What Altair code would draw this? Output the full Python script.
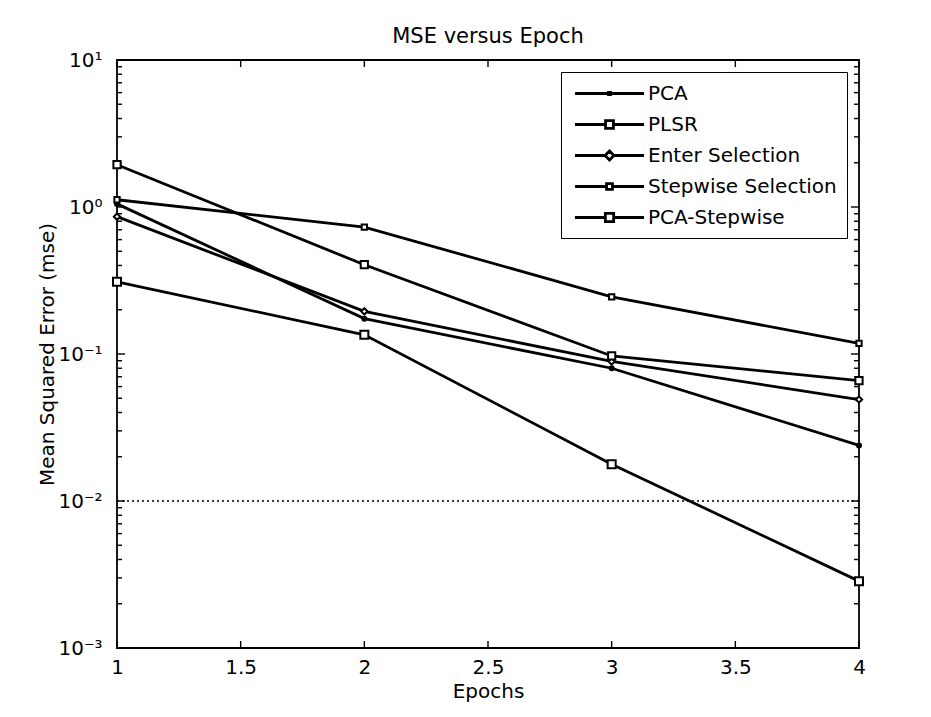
import altair as alt
import pandas as pd

# ---- data ----
epochs = [1, 2, 3, 4]
series_names = ["PCA", "PLSR", "Enter Selection", "Stepwise Selection", "PCA-Stepwise"]
pca = [1.05, 0.174, 0.080, 0.0239]
plsr = [1.12, 0.73, 0.245, 0.118]
enter_sel = [0.86, 0.195, 0.089, 0.049]
stepwise_sel = [1.94, 0.405, 0.097, 0.066]
pca_stepwise = [0.31, 0.135, 0.0178, 0.00285]
goal = [0.01]

x_ticks = [1, 1.5, 2, 2.5, 3, 3.5, 4]
y_major = [0.001, 0.01, 0.1, 1, 10]
y_major_labels = ["10⁻³", "10⁻²", "10⁻¹", "10⁰", "10¹"]
y_minor = [m * d for d in [0.001, 0.01, 0.1, 1] for m in [2, 3, 4, 5, 6, 7, 8, 9]]

W, H = 742, 588
FONT = "DejaVu Sans"

values = [pca, plsr, enter_sel, stepwise_sel, pca_stepwise]
rows = []
for name, vals in zip(series_names, values):
    for e, v in zip(epochs, vals):
        rows.append({"series": name, "epoch": e, "mse": v})
df = pd.DataFrame(rows)

xs = alt.Scale(domain=[1, 4], nice=False, zero=False)
ys = alt.Scale(type="log", domain=[0.001, 10], nice=False)

label_expr = " : ".join(
    f"abs(log(datum.value)/LN10 - ({i})) < 0.01 ? '{lab}'"
    for i, lab in zip([-3, -2, -1, 0, 1], y_major_labels)
) + " : ''"

x_axis = alt.Axis(values=x_ticks, format="~g", ticks=False, domain=False, grid=False,
                  labelFlush=False, labelOverlap=False,
                  labelFontSize=20, labelPadding=9, labelColor="black", labelFont=FONT,
                  title="Epochs", titleFontSize=20, titleFontWeight="normal", titleFont=FONT,
                  titlePadding=4, titleColor="black")
y_axis = alt.Axis(values=y_major, labelExpr=label_expr, ticks=False, domain=False, grid=False,
                  labelFlush=False, labelOverlap=False,
                  labelFontSize=20, labelPadding=15, labelColor="black", labelFont=FONT,
                  title="Mean Squared Error (mse)", titleFontSize=20, titleFontWeight="normal",
                  titleFont=FONT, titlePadding=0, titleColor="black")


def X(field):
    return alt.X(field, type="quantitative", scale=xs, axis=x_axis)


def Y(field):
    return alt.Y(field, type="quantitative", scale=ys, axis=y_axis)


base = alt.Chart(df)

lines = base.mark_line(color="black", strokeWidth=2.8).encode(
    x=X("epoch"),
    y=Y("mse"),
    detail="series:N",
)

points = base.mark_point(filled=True, stroke="black", strokeWidth=2, opacity=1).encode(
    x=X("epoch"),
    y=Y("mse"),
    shape=alt.Shape("series:N", scale=alt.Scale(domain=series_names,
                    range=["circle", "square", "diamond", "square", "square"]), legend=None),
    fill=alt.Fill("series:N", scale=alt.Scale(domain=series_names,
                  range=["black", "white", "white", "white", "white"]), legend=None),
    size=alt.Size("series:N", scale=alt.Scale(domain=series_names,
                  range=[16, 64, 60, 36, 64]), legend=None),
)

leg_paths = [
    "M-3.5,0H3.5M-0.1,-0.1H0.1V0.1H-0.1Z",
    "M-3.5,0H-0.4M0.4,0H3.5M-0.4,-0.4H0.4V0.4H-0.4Z",
    "M-3.5,0H-0.45M0.45,0H3.5M-0.45,0L0,-0.45L0.45,0L0,0.45Z",
    "M-3.5,0H-0.3M0.3,0H3.5M-0.3,-0.3H0.3V0.3H-0.3Z",
    "M-3.5,0H-0.42M0.42,0H3.5M-0.42,-0.42H0.42V0.42H-0.42Z",
]
legend_layer = base.transform_filter("datum.epoch > 100").mark_point(
    filled=False, stroke="black", strokeWidth=2.8).encode(
    x=X("epoch"),
    y=Y("mse"),
    shape=alt.Shape("series:N", scale=alt.Scale(domain=series_names, range=leg_paths),
                    legend=alt.Legend(title=None, orient="none", legendX=444, legendY=12,
                                      symbolSize=390, symbolStrokeColor="black",
                                      symbolStrokeWidth=2.8, symbolFillColor="transparent",
                                      symbolOpacity=1,
                                      symbolOffset=27, labelOffset=27, labelLimit=400,
                                      labelFontSize=20, labelColor="black", labelFont=FONT,
                                      rowPadding=9, padding=10,
                                      strokeColor="black", fillColor="white")),
    size=alt.value(390),
)

goal_df = pd.DataFrame({"g": goal, "x0": [epochs[0]], "x1": [epochs[-1]]})
goal_rule = alt.Chart(goal_df).mark_rule(color="black", strokeWidth=1.6, strokeDash=[2, 3]).encode(
    x=X("x0"),
    x2="x1:Q",
    y=Y("g"),
)

xt_df = pd.DataFrame({"xt": x_ticks})
xt_bottom = alt.Chart(xt_df).mark_rule(color="black", strokeWidth=1.4).encode(
    x=X("xt"), y=alt.value(H), y2=alt.value(H - 7))
xt_top = alt.Chart(xt_df).mark_rule(color="black", strokeWidth=1.4).encode(
    x=X("xt"), y=alt.value(0), y2=alt.value(7))

ymaj_df = pd.DataFrame({"yt": y_major})
ymin_df = pd.DataFrame({"yt": y_minor})
yt_layers = []
for d, ln in [(ymaj_df, 8), (ymin_df, 5)]:
    yt_layers.append(alt.Chart(d).mark_rule(color="black", strokeWidth=1.4).encode(
        y=Y("yt"), x=alt.value(0), x2=alt.value(ln)))
    yt_layers.append(alt.Chart(d).mark_rule(color="black", strokeWidth=1.4).encode(
        y=Y("yt"), x=alt.value(W), x2=alt.value(W - ln)))

chart = alt.layer(
    lines, goal_rule, xt_bottom, xt_top, *yt_layers, points, legend_layer
).resolve_scale(
    shape="independent"
).properties(
    width=W, height=H,
    title=alt.TitleParams("MSE versus Epoch", fontSize=21, fontWeight="normal",
                          font=FONT, color="black", offset=3),
    autosize=alt.AutoSizeParams(type="none"),
    padding={"left": 117, "top": 60, "right": 72, "bottom": 69},
).configure(
    font=FONT, background="white"
).configure_view(
    stroke="black", strokeWidth=1.8
)

chart.save("out.html", embed_options={"renderer": "svg", "actions": False})
